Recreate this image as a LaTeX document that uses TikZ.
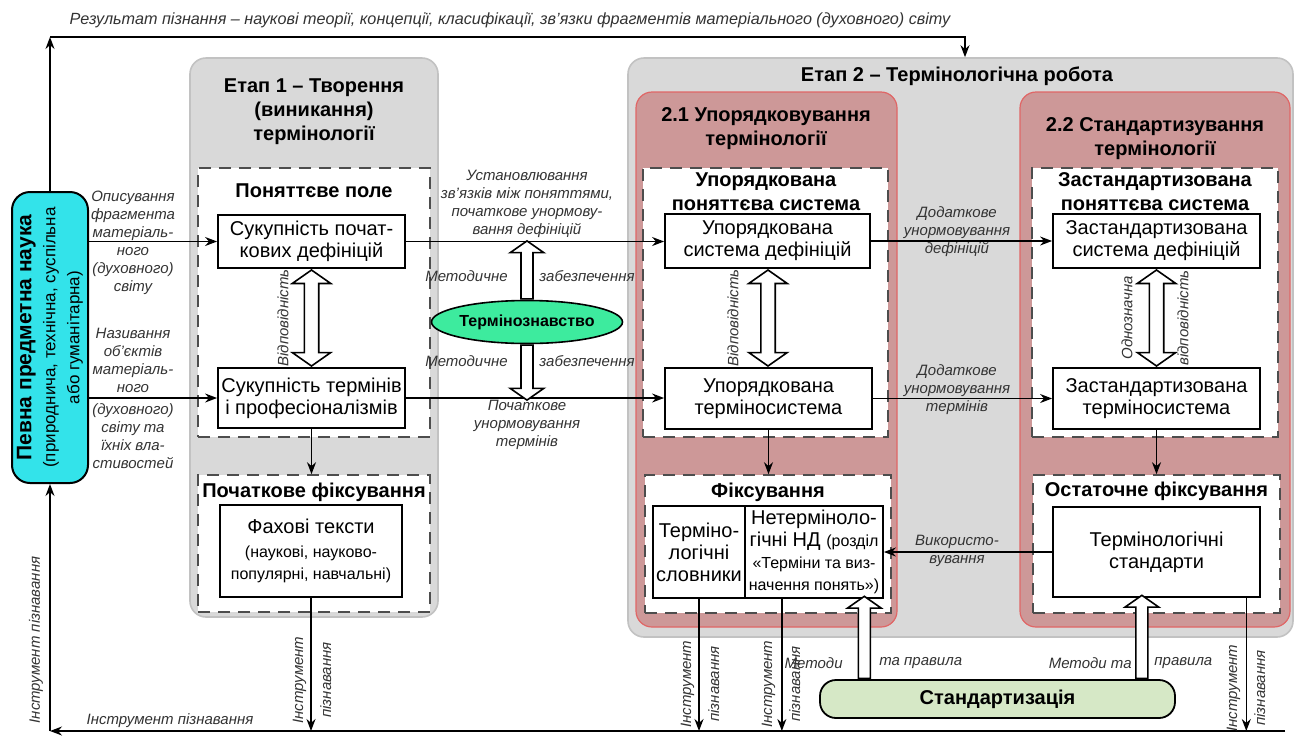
\documentclass[tikz,border=0pt]{standalone}
\usepackage{fontspec}
\setmainfont{Liberation Sans}
\usetikzlibrary{arrows.meta,positioning,calc,shapes.geometric,shapes.arrows}
\definecolor{stagegray}{HTML}{D9D9D9}
\definecolor{stageedge}{HTML}{C2C2C2}
\definecolor{rosered}{HTML}{CD9898}
\definecolor{roseedge}{HTML}{E06666}
\definecolor{sciencecyan}{HTML}{33E3EA}
\definecolor{termgreen}{HTML}{3DEB9E}
\definecolor{stdgreen}{HTML}{D6E8C6}
\definecolor{dashgray}{HTML}{4D4D4D}
\definecolor{notegray}{HTML}{333333}
\newcommand\txtbox{\fontsize{10}{11}\selectfont}
\newcommand\txthead{\fontsize{10}{12}\selectfont\bfseries}
\newcommand\txtnote{\fontsize{7.5}{9}\selectfont\itshape}
\newcommand\txtsmall{\fontsize{8}{9}\selectfont}

\begin{document}
\begin{tikzpicture}[
  x=0.5pt,y=-0.5pt,
  >=Stealth,
  flow/.style={line width=0.7pt,-{Stealth[length=6pt,width=4.5pt]}},
  stagebox/.style={draw=stageedge,fill=stagegray,line width=0.8pt,rounded corners=8pt,inner sep=0pt},
  rosebox/.style={draw=roseedge,fill=rosered,line width=0.6pt,rounded corners=8pt,inner sep=0pt},
  fieldbox/.style={draw=dashgray,fill=white,line width=0.8pt,dash pattern=on 6pt off 4pt,inner sep=0pt},
  item/.style={draw,fill=white,line width=0.9pt,inner sep=0pt,align=center,font=\txtbox},
  head/.style={align=center,font=\txthead,inner sep=1pt},
  note/.style={align=center,font=\txtnote,text=notegray,inner sep=1pt},
  twin/.style={double arrow,draw,fill=white,line width=0.8pt,shape border rotate=90,
    inner sep=3.2pt,double arrow head extend=6pt,double arrow tip angle=110},
  lift/.style={single arrow,draw,fill=white,line width=0.8pt,shape border rotate=90,
    inner sep=2.6pt,single arrow head extend=5.4pt,single arrow tip angle=110}
]
  \fill[white] (0,0) rectangle (1300,740);
  \useasboundingbox (0,0) rectangle (1300,740);

  % stages and frames
  \node[stagebox,minimum width=124pt,minimum height=279.5pt] (etap1) at (314,337.5) {};
  \node[stagebox,minimum width=332.5pt,minimum height=289.5pt] (etap2) at (960.5,347.5) {};
  \node[rosebox,minimum width=130.5pt,minimum height=267.5pt] (order) at (766.5,359.5) {};
  \node[rosebox,minimum width=135pt,minimum height=267.5pt] (standard) at (1155,359.5) {};
  \node[fieldbox,minimum width=116pt,minimum height=134.5pt] (field1) at (314,302.5) {};
  \node[fieldbox,minimum width=116pt,minimum height=68.5pt] (fix1) at (314,543.5) {};
  \node[fieldbox,minimum width=122.5pt,minimum height=134.5pt] (field21) at (765.5,302.5) {};
  \node[fieldbox,minimum width=123pt,minimum height=69pt] (fix21) at (768,544) {};
  \node[fieldbox,minimum width=123pt,minimum height=134.5pt] (field22) at (1155,302.5) {};
  \node[fieldbox,minimum width=123.5pt,minimum height=69pt] (fix22) at (1156.5,544) {};

  % headings
  \node[head] (etap1head) at (314,112) {Етап 1 – Творення\\(виникання)\\термінології};
  \node[head] (etap2head) at (957,76) {Етап 2 – Термінологічна робота};
  \node[head] (orderhead) at (766,129) {2.1 Упорядковування\\термінології};
  \node[head] (standardhead) at (1155,139) {2.2 Стандартизування\\термінології};
  \node[head] (field1head) at (314,191) {Поняттєве поле};
  \node[head] (field21head) at (766,191.5) {Упорядкована\\поняттєва система};
  \node[head] (field22head) at (1155,191.5) {Застандартизована\\поняттєва система};
  \node[head] (fix1head) at (314,492) {Початкове фіксування};
  \node[head] (fix21head) at (768,492) {Фіксування};
  \node[head] (fix22head) at (1156.5,491) {Остаточне фіксування};

  % boxes
  \node[item,minimum width=93.5pt,minimum height=26.5pt] (def1) at (311.5,241.5) {Сукупність почат-\\кових дефініцій};
  \node[item,minimum width=93.5pt,minimum height=30pt] (term1) at (311.5,398) {Сукупність термінів\\і професіоналізмів};
  \node[item,minimum width=91pt,minimum height=46pt] (texts1) at (311,551)
    {Фахові тексти\\[1pt]{\txtsmall(наукові, науково-}\\{\txtsmall популярні, навчальні)}};
  \node[item,minimum width=102.5pt,minimum height=27pt] (def21) at (767.5,241) {Упорядкована\\система дефініцій};
  \node[item,minimum width=103.5pt,minimum height=30.5pt] (term21) at (768.5,398.5) {Упорядкована\\терміносистема};
  \node[item,minimum width=46pt,minimum height=46pt] (dict21) at (699,552) {Терміно-\\логічні\\словники};
  \node[item,minimum width=69pt,minimum height=46pt] (nd21) at (814,552)
    {Нетерміноло-\\гічні НД {\txtsmall(розділ}\\{\txtsmall«Терміни та виз-}\\{\txtsmall начення понять»)}};
  \node[item,minimum width=103.5pt,minimum height=27pt] (def22) at (1156.5,241) {Застандартизована\\система дефініцій};
  \node[item,minimum width=103.5pt,minimum height=30.5pt] (term22) at (1156.5,398.5) {Застандартизована\\терміносистема};
  \node[item,minimum width=103.5pt,minimum height=45pt] (std22) at (1156.5,552) {Термінологічні\\стандарти};

  \node[draw,fill=sciencecyan,rounded corners=9pt,line width=1pt,minimum width=38pt,minimum height=145.5pt] (science) at (50,337.5) {};
  \node[rotate=90,align=center,inner sep=0pt] (sciencetext) at (science.center)
    {{\fontsize{10.5}{12}\selectfont\bfseries Певна предметна наука}\\{\fontsize{8.5}{9.5}\selectfont(природнича, технічна, суспільна}\\{\fontsize{8.5}{9.5}\selectfont або гуманітарна)}};

  % result loop on top
  \coordinate (resL) at (50,37);
  \coordinate (resR) at (965,37);
  \draw[flow] (science.north) -- (resL);
  \draw[flow] (resL) -- (resR) -- (resR |- etap2.north);
  \node[note,font=\fontsize{8.1}{9}\selectfont\itshape] (result) at (510,20)
    {Результат пізнання – наукові теорії, концепції, класифікації, зв'язки фрагментів матеріального (духовного) світу};

  % main flows
  \draw[flow] (science.east |- def1.west) -- (def1.west);
  \draw[flow] (science.east |- term1.west) -- (term1.west);
  \draw[flow] (def1.east) -- (def21.west |- def1.east);
  \draw[flow] (term1.east) -- (term21.west |- term1.east);
  \draw[flow] (def21.east) -- (def22.west);
  \draw[flow] (term21.east) -- (term22.west);
  \draw[flow] (term1.south) -- (term1.south |- fix1.north);
  \draw[flow] (term21.south) -- (term21.south |- fix21.north);
  \draw[flow] (term22.south) -- (term22.south |- fix22.north);
  \draw[flow] (std22.west) -- (nd21.east);

  % tool loop at the bottom
  \coordinate (toolL) at (50,731);
  \coordinate (toolR) at (1285,731);
  \coordinate (nd21out) at ($(nd21.south west)!0.27!(nd21.south east)$);
  \coordinate (std22out) at ($(std22.south west)!0.93!(std22.south east)$);
  \draw[flow] (toolR) -- (toolL);
  \draw[flow] (toolL) -- (science.south);
  \draw[flow] (texts1.south) -- (texts1.south |- toolL);
  \draw[flow] (dict21.south) -- (dict21.south |- toolL);
  \draw[flow] (nd21out) -- (nd21out |- toolL);
  \draw[flow] (std22out) -- (std22out |- toolL);

  % correspondence arrows
  \node[twin,minimum height=48pt] (match1) at ($(def1.south)!0.5!(term1.north)$) {};
  \node[twin,minimum height=48pt] (match21) at ($(def21.south)!0.5!(term21.north)$) {};
  \node[twin,minimum height=48pt] (match22) at ($(def22.south)!0.5!(term22.north)$) {};
  \node[note,rotate=90] (match1note) at (283,318) {Відповідність};
  \node[note,rotate=90] (match21note) at (733,318) {Відповідність};
  \node[note,rotate=90] (match22left) at (1127,318) {Однозначна};
  \node[note,rotate=90] (match22right) at (1183,318) {відповідність};

  % terminology science
  \node[ellipse,draw,fill=termgreen,line width=0.8pt,minimum width=85pt,minimum height=21.5pt,inner sep=0pt,
    font=\fontsize{8}{10}\selectfont\bfseries] (termo) at (527,322) {Термінознавство};
  \node[lift,anchor=tail,minimum height=29pt] (upsupport) at (termo.north) {};
  \node[lift,anchor=tail,shape border rotate=270,minimum height=27.5pt] (downsupport) at (termo.south) {};
  \node[note,anchor=east] (method1) at (510,276) {Методичне};
  \node[note,anchor=west] (support1) at (537,276) {забезпечення};
  \node[note,anchor=east] (method2) at (510,361) {Методичне};
  \node[note,anchor=west] (support2) at (537,361) {забезпечення};

  % standardization
  \node[draw,fill=stdgreen,rounded corners=8pt,line width=0.9pt,minimum width=177.5pt,minimum height=19pt,
    font=\fontsize{10}{12}\selectfont\bfseries] (standardization) at (997.5,699) {Стандартизація};
  \coordinate (nd21in) at ($(nd21.south west)!0.86!(nd21.south east)$);
  \coordinate (std22in) at ($(std22.south west)!0.43!(std22.south east)$);
  \node[lift,anchor=tail,minimum height=41pt] (rules21) at (nd21in |- standardization.north) {};
  \node[lift,anchor=tail,minimum height=41.5pt] (rules22) at (std22in |- standardization.north) {};
  \node[note,anchor=east] (rules21a) at (845,663) {Методи};
  \node[note,anchor=west] (rules21b) at (877,663) {та правила};
  \node[note,anchor=east] (rules22a) at (1134,663) {Методи та};
  \node[note,anchor=west] (rules22b) at (1152,663) {правила};

  % connector labels
  \node[note] (describe) at (133,243) {Описування\\фрагмента\\матеріаль-\\ного\\(духовного)\\світу};
  \node[note] (naming) at (133,398) {Називання\\об’єктів\\матеріаль-\\ного\\[2pt](духовного)\\світу та\\їхніх вла-\\стивостей};
  \node[note] (linkdef) at (527,204) {Установлювання\\зв’язків між поняттями,\\початкове унормову-\\вання дефініцій};
  \node[note] (initterm) at (527,425) {Початкове\\унормовування\\термінів};
  \node[note] (adddef) at (957,232) {Додаткове\\унормовування\\дефініцій};
  \node[note] (addterm) at (957,390) {Додаткове\\унормовування\\термінів};
  \node[note] (usage) at (957,551) {Використо-\\вування};
  \node[note,rotate=90] (tool0) at (36,640) {Інструмент пізнавання};
  \node[note] (tool1) at (170,721) {Інструмент пізнавання};
  \node[note,rotate=90] (tool2) at (312,680) {Інструмент\\[5pt]пізнавання};
  \node[note,rotate=90] (tool3) at (700,684) {Інструмент\\[5pt]пізнавання};
  \node[note,rotate=90] (tool4) at (781,684) {Інструмент\\[5pt]пізнавання};
  \node[note,rotate=90] (tool5) at (1246,688) {Інструмент\\[5pt]пізнавання};
\end{tikzpicture}
\end{document}
